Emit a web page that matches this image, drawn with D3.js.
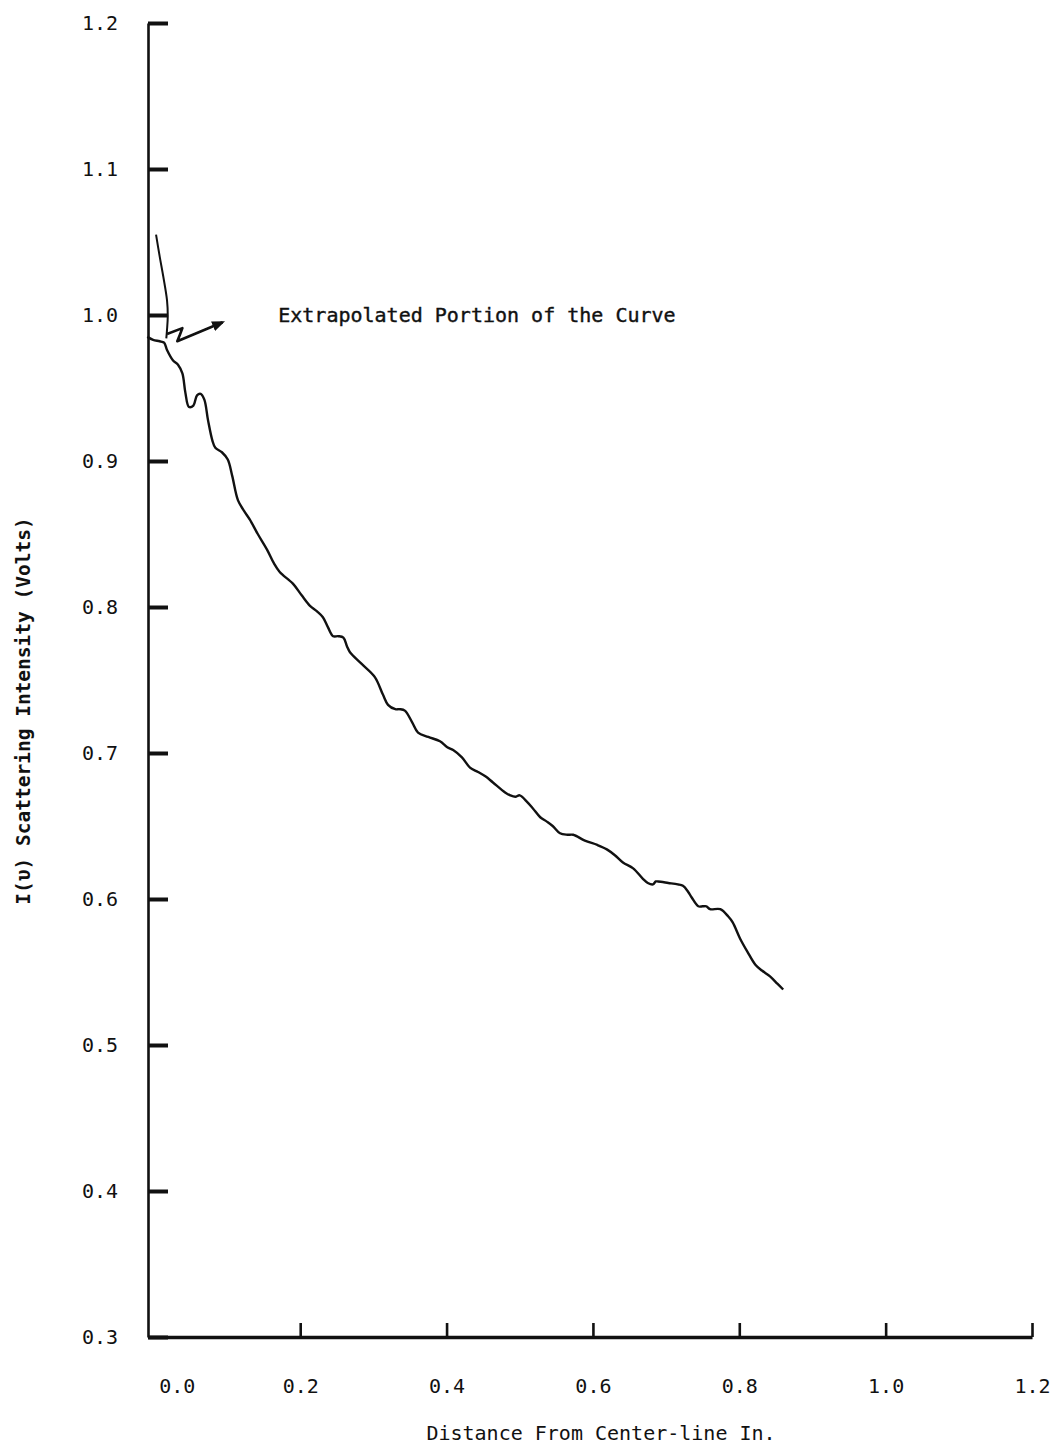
<!DOCTYPE html>
<html>
<head>
<meta charset="utf-8">
<script src="https://cdn.jsdelivr.net/npm/d3@7"></script>
<style>
  body { margin: 0; background: #fff; }
  svg { display: block; }
  .axis text { font-family: "DejaVu Sans Mono", monospace; font-size: 20px; fill: #111; }
  .axis path, .axis line { stroke: #111; }
</style>
</head>
<body>
<div id="chart"></div>
<script>
// measured curve, distance from center-line (in.) vs. I(u) volts
const distance = [-0.009, -0.001, 0.008, 0.014, 0.018, 0.026, 0.033, 0.039, 0.043, 0.048,
  0.054, 0.059, 0.064, 0.069, 0.074, 0.080, 0.084, 0.093, 0.101, 0.107,
  0.115, 0.123, 0.131, 0.142, 0.155, 0.164, 0.172, 0.190, 0.202, 0.213,
  0.223, 0.231, 0.238, 0.245, 0.252, 0.259, 0.264, 0.268, 0.284, 0.302,
  0.313, 0.320, 0.330, 0.336, 0.343, 0.353, 0.361, 0.375, 0.391, 0.401,
  0.409, 0.421, 0.432, 0.443, 0.453, 0.463, 0.480, 0.487, 0.494, 0.500,
  0.509, 0.518, 0.528, 0.537, 0.545, 0.555, 0.565, 0.573, 0.589, 0.606,
  0.619, 0.630, 0.641, 0.655, 0.668, 0.675, 0.682, 0.686, 0.689, 0.703,
  0.716, 0.723, 0.730, 0.735, 0.744, 0.750, 0.755, 0.760, 0.774, 0.785,
  0.791, 0.801, 0.811, 0.822, 0.831, 0.842, 0.852, 0.860];
const intensity = [0.985, 0.983, 0.982, 0.981, 0.976, 0.969, 0.966, 0.960, 0.947, 0.937,
  0.938, 0.945, 0.946, 0.942, 0.928, 0.914, 0.909, 0.906, 0.901, 0.890,
  0.873, 0.866, 0.860, 0.850, 0.839, 0.830, 0.824, 0.816, 0.808, 0.801,
  0.797, 0.793, 0.786, 0.780, 0.780, 0.779, 0.773, 0.769, 0.761, 0.752,
  0.740, 0.733, 0.730, 0.730, 0.729, 0.721, 0.714, 0.711, 0.708, 0.704,
  0.702, 0.697, 0.690, 0.687, 0.684, 0.680, 0.673, 0.671, 0.670, 0.671,
  0.667, 0.662, 0.656, 0.653, 0.650, 0.645, 0.644, 0.644, 0.640, 0.637,
  0.634, 0.630, 0.625, 0.621, 0.614, 0.611, 0.610, 0.612, 0.612, 0.611,
  0.610, 0.609, 0.605, 0.601, 0.595, 0.595, 0.595, 0.593, 0.593, 0.588,
  0.584, 0.573, 0.564, 0.555, 0.551, 0.547, 0.542, 0.538];

// hand-drawn extrapolation near the center-line
const extrapDistance = [0.003, 0.008, 0.013, 0.018, 0.019, 0.018, 0.017];
const extrapIntensity = [1.055, 1.040, 1.026, 1.010, 0.999, 0.990, 0.984];

// annotation arrow
const arrowDistance = [0.018, 0.039, 0.036, 0.032, 0.094];
const arrowIntensity = [0.987, 0.991, 0.987, 0.982, 0.995];

const xTicks = [0.0, 0.2, 0.4, 0.6, 0.8, 1.0, 1.2];
const yTicks = [0.3, 0.4, 0.5, 0.6, 0.7, 0.8, 0.9, 1.0, 1.1, 1.2];
const noteText = 'Extrapolated Portion of the Curve';
const noteAt = [0.170, 0.995];
const xLabel = 'Distance From Center-line In.';
const yLabel = 'I(υ) Scattering Intensity (Volts)';

const width = 1062;
const height = 1448;

const x = d3.scaleLinear().domain([-0.008, 1.2]).range([148, 1032]);
const y = d3.scaleLinear().domain([0.3, 1.2]).range([1337, 23]);

const svg = d3.select('#chart').append('svg')
  .attr('width', width)
  .attr('height', height);

svg.append('defs').append('marker')
  .attr('id', 'head')
  .attr('viewBox', '0 0 10 10')
  .attr('refX', 8)
  .attr('refY', 5)
  .attr('markerWidth', 5)
  .attr('markerHeight', 5)
  .attr('orient', 'auto')
  .append('path')
  .attr('d', 'M0,1 L10,5 L0,9 Z')
  .attr('fill', '#111');

// y axis, ticks pointing inward
const yAxis = svg.append('g')
  .attr('class', 'axis y')
  .attr('transform', `translate(${x(-0.008)},0)`)
  .call(d3.axisLeft(y).tickValues(yTicks).tickFormat(d3.format('.1f'))
    .tickSize(-20).tickSizeOuter(0).tickPadding(30));
yAxis.select('.domain').attr('stroke-width', 2.6);
yAxis.selectAll('.tick line').attr('stroke-width', 4);

// x axis, ticks pointing up
const xAxis = svg.append('g')
  .attr('class', 'axis x')
  .attr('transform', `translate(0,${y(0.3)})`)
  .call(d3.axisBottom(x).tickValues(xTicks).tickFormat(d3.format('.1f'))
    .tickSize(-14).tickSizeOuter(0).tickPadding(42));
xAxis.select('.domain').attr('stroke-width', 3.4);
xAxis.selectAll('.tick line').attr('stroke-width', 2.6)
  .attr('display', d => d === 0 ? 'none' : null);
xAxis.selectAll('.tick text').attr('dx', d => d === 0 ? 23 : 0);

const line = d3.line()
  .x(i => x(distance[i]))
  .y(i => y(intensity[i]))
  .curve(d3.curveCatmullRom);

svg.append('path')
  .datum(d3.range(distance.length))
  .attr('d', line)
  .attr('fill', 'none')
  .attr('stroke', '#111')
  .attr('stroke-width', 2.4)
  .attr('stroke-linejoin', 'round');

svg.append('path')
  .datum(d3.range(extrapDistance.length))
  .attr('d', d3.line()
    .x(i => x(extrapDistance[i]))
    .y(i => y(extrapIntensity[i]))
    .curve(d3.curveCatmullRom))
  .attr('fill', 'none')
  .attr('stroke', '#111')
  .attr('stroke-width', 2);

svg.append('path')
  .datum(d3.range(arrowDistance.length))
  .attr('d', d3.line()
    .x(i => x(arrowDistance[i]))
    .y(i => y(arrowIntensity[i])))
  .attr('fill', 'none')
  .attr('stroke', '#111')
  .attr('stroke-width', 2.6)
  .attr('stroke-linejoin', 'round')
  .attr('marker-end', 'url(#head)');

svg.append('text')
  .attr('x', x(noteAt[0]))
  .attr('y', y(noteAt[1]))
  .attr('font-family', '"DejaVu Sans Mono", monospace')
  .attr('font-size', 20)
  .attr('fill', '#111')
  .attr('stroke', '#111')
  .attr('stroke-width', 0.4)
  .text(noteText);

svg.append('text')
  .attr('x', 601)
  .attr('y', 1440)
  .attr('text-anchor', 'middle')
  .attr('font-family', '"DejaVu Sans Mono", monospace')
  .attr('font-size', 20)
  .attr('fill', '#111')
  .text(xLabel);

svg.append('text')
  .attr('transform', 'translate(30,711) rotate(-90)')
  .attr('text-anchor', 'middle')
  .attr('font-family', '"DejaVu Sans Mono", monospace')
  .attr('font-weight', 'bold')
  .attr('font-size', 19.5)
  .attr('fill', '#111')
  .text(yLabel);
</script>
</body>
</html>
